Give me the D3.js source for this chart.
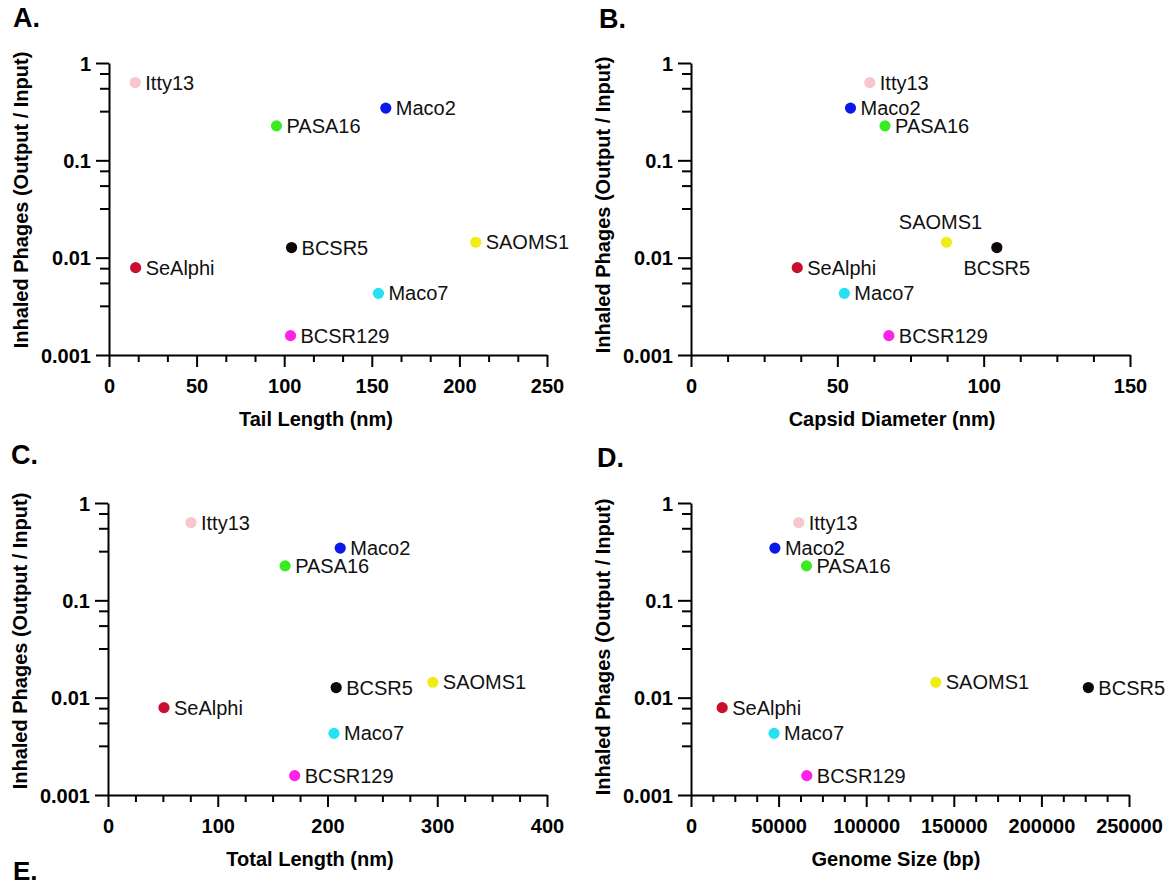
<!DOCTYPE html>
<html><head><meta charset="utf-8">
<script src="https://cdn.jsdelivr.net/npm/d3@7"></script>
<style>
html,body{margin:0;padding:0;background:#fff;}
svg{display:block;font-family:"Liberation Sans",Arial,Helvetica,sans-serif;}
</style></head><body>
<svg id="chart" width="1176" height="888"></svg>
<script>
// ---- data ----
const phages = ["Itty13","Maco2","PASA16","BCSR5","SAOMS1","SeAlphi","Maco7","BCSR129"];
const inhaled = [0.63, 0.344, 0.226, 0.0127, 0.0144, 0.0079, 0.0043, 0.00158];
const tailLength = [15, 158, 95.6, 104.2, 209.3, 15.2, 153.8, 103.6];
const capsidDiameter = [61.1, 54.5, 66.3, 104.5, 87.3, 36.3, 52.4, 67.6];
const totalLength = [75.6, 211.6, 161.4, 207.9, 296, 51, 205.9, 170.1];
const genomeSize = [61500, 47900, 65900, 226800, 139700, 17800, 47400, 66100];
const phageColors = ["#f8c6cf","#0a18e8","#3aeb22","#0d0708","#eeee14","#c8102e","#24e2f2","#fb22ea"];
const yMajorTicks = [0.001, 0.01, 0.1, 1];
const yMinorMultiples = [3.2, 5.5, 7.8];
const yTickLabels = ["0.001","0.01","0.1","1"];
const yTitle = "Inhaled Phages (Output / Input)";

// ---- panels ----
const panels = [
  {letter:"A.", values:tailLength, domain:[0,250], majorTicks:[0,50,100,150,200,250], minorCount:15,
   title:"Tail Length (nm)", box:{l:109,r:547,t:63,b:355}, titleX:316, letterPos:[13,27], yTitleY:200, special:{}},
  {letter:"B.", values:capsidDiameter, domain:[0,150], majorTicks:[0,50,100,150], minorCount:12,
   title:"Capsid Diameter (nm)", box:{l:691,r:1130,t:63,b:355}, titleX:892, letterPos:[599,28], yTitleY:205,
   special:{SAOMS1:"above", BCSR5:"below"}},
  {letter:"C.", values:totalLength, domain:[0,400], majorTicks:[0,100,200,300,400], minorCount:16,
   title:"Total Length (nm)", box:{l:108,r:547,t:503,b:795}, titleX:310, letterPos:[11,464], yTitleY:641, special:{}},
  {letter:"D.", values:genomeSize, domain:[0,250000], majorTicks:[0,50000,100000,150000,200000,250000], minorCount:20,
   title:"Genome Size (bp)", box:{l:691,r:1129,t:503,b:795}, titleX:896, letterPos:[597,467], yTitleY:647, special:{}}
];

const svg = d3.select("#chart");

function styleAxis(g){
  g.selectAll("path.domain").attr("stroke","#000").attr("stroke-width",2);
  g.selectAll(".tick line").attr("stroke","#000").attr("stroke-width",2);
  g.selectAll(".tick text").attr("fill","#000").attr("font-size",20).attr("font-weight","bold")
    .attr("font-family","'Liberation Sans',Arial,sans-serif");
}

panels.forEach(p => {
  const b = p.box;
  const x = d3.scaleLinear().domain(p.domain).range([b.l, b.r]);
  const y = d3.scaleLog().domain([0.001, 1]).range([b.b, b.t]);

  // minor x ticks
  const minorX = d3.range(1, p.minorCount).map(i => p.domain[0] + (p.domain[1]-p.domain[0]) * i / p.minorCount)
    .filter(v => !p.majorTicks.some(m => Math.abs(m - v) < 1e-6));
  const gxm = svg.append("g").attr("transform", `translate(0,${b.b})`)
    .call(d3.axisBottom(x).tickValues(minorX).tickFormat("").tickSize(7).tickSizeOuter(0));
  gxm.select("path.domain").remove();
  styleAxis(gxm);

  // minor y ticks
  const minorY = [];
  [-3,-2,-1].forEach(k => yMinorMultiples.forEach(m => minorY.push(m * Math.pow(10, k))));
  const gym = svg.append("g").attr("transform", `translate(${b.l},0)`)
    .call(d3.axisLeft(y).tickValues(minorY).tickFormat("").tickSize(9).tickSizeOuter(0));
  gym.select("path.domain").remove();
  styleAxis(gym);

  // major axes
  const gx = svg.append("g").attr("transform", `translate(0,${b.b})`)
    .call(d3.axisBottom(x).tickValues(p.majorTicks).tickFormat(d3.format("d")).tickSize(12).tickPadding(12).tickSizeOuter(0));
  styleAxis(gx);
  const gy = svg.append("g").attr("transform", `translate(${b.l},0)`)
    .call(d3.axisLeft(y).tickValues(yMajorTicks).tickFormat((d,i) => yTickLabels[i]).tickSize(13).tickPadding(5).tickSizeOuter(0));
  styleAxis(gy);
  gy.selectAll(".tick text").attr("dy","0.36em");

  // titles
  svg.append("text").attr("x", p.titleX).attr("y", b.b + 71).attr("text-anchor","middle")
    .attr("font-size",20).attr("font-weight","bold").attr("fill","#000").text(p.title);
  svg.append("text").attr("transform", `translate(${b.l - 81},${p.yTitleY}) rotate(-90)`)
    .attr("text-anchor","middle").attr("font-size",20).attr("font-weight","bold").attr("fill","#000").text(yTitle);
  svg.append("text").attr("x", p.letterPos[0]).attr("y", p.letterPos[1])
    .attr("font-size",27).attr("font-weight","bold").attr("fill","#000").text(p.letter);

  // points
  const pts = phages.map((name,i) => ({name, xv:p.values[i], yv:inhaled[i], color:phageColors[i]}));
  const g = svg.append("g");
  g.selectAll("circle").data(pts).join("circle")
    .attr("cx", d => x(d.xv)).attr("cy", d => y(d.yv)).attr("r", 5.6).attr("fill", d => d.color);
  g.selectAll("text").data(pts).join("text")
    .attr("font-size",20).attr("fill","#111")
    .attr("x", d => {
      const s = p.special[d.name];
      if (s === "above") return x(d.xv) - 6;
      if (s === "below") return x(d.xv);
      return x(d.xv) + 10;
    })
    .attr("y", d => {
      const s = p.special[d.name];
      if (s === "above") return y(d.yv) - 13;
      if (s === "below") return y(d.yv) + 27;
      return y(d.yv) + 7;
    })
    .attr("text-anchor", d => p.special[d.name] ? "middle" : "start")
    .text(d => d.name);
});

svg.append("text").attr("x", 13).attr("y", 880).attr("font-size",26).attr("font-weight","bold").attr("fill","#000").text("E.");
</script>
</body></html>
